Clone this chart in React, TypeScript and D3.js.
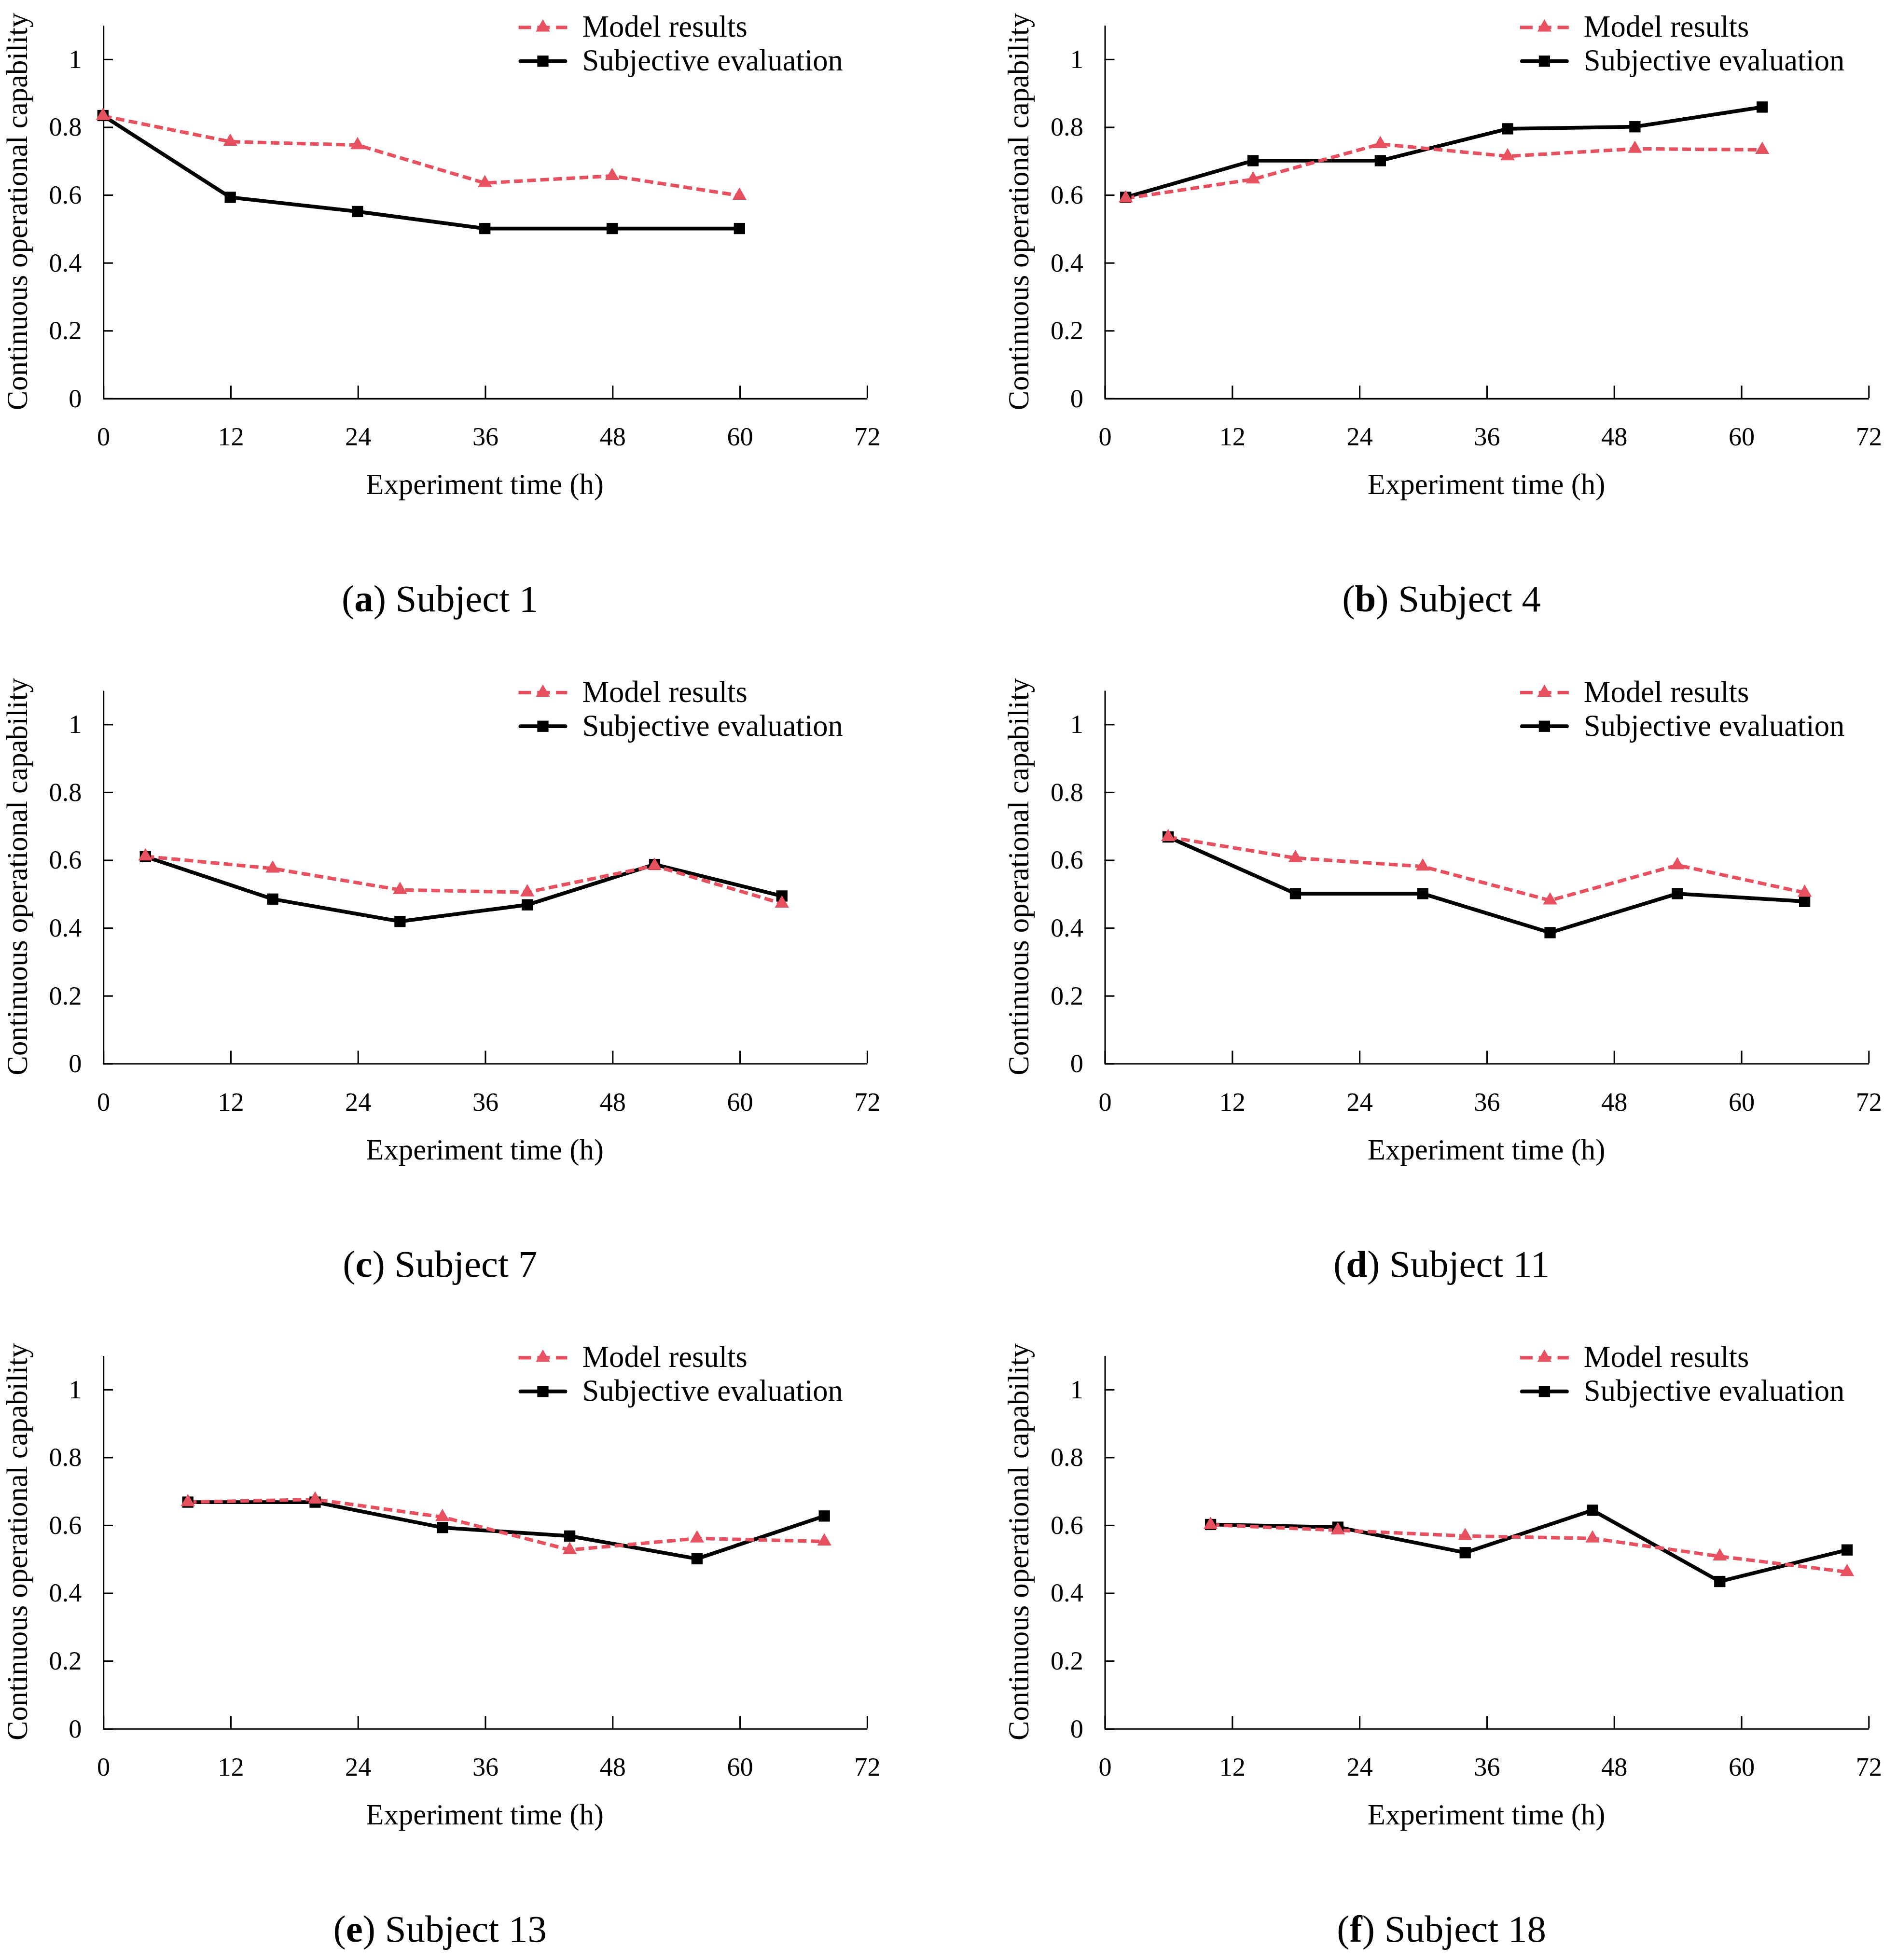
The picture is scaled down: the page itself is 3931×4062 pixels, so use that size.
import { useEffect, useRef } from "react";
import * as d3 from "d3";

// Hours at which each subject was sampled
const hoursS1 = [0, 12, 24, 36, 48, 60];
const hoursS4 = [2, 14, 26, 38, 50, 62];
const hoursS7 = [4, 16, 28, 40, 52, 64];
const hoursS11 = [6, 18, 30, 42, 54, 66];
const hoursS13 = [8, 20, 32, 44, 56, 68];
const hoursS18 = [10, 22, 34, 46, 58, 70];

// Model results (red dashed, triangles)
const modelS1 = [0.832, 0.756, 0.746, 0.634, 0.655, 0.597];
const modelS4 = [0.589, 0.645, 0.749, 0.713, 0.735, 0.732];
const modelS7 = [0.61, 0.574, 0.511, 0.504, 0.582, 0.471];
const modelS11 = [0.667, 0.605, 0.58, 0.48, 0.584, 0.503];
const modelS13 = [0.667, 0.675, 0.623, 0.526, 0.56, 0.551];
const modelS18 = [0.6, 0.584, 0.567, 0.56, 0.507, 0.461];

// Subjective evaluation (black solid, squares)
const subjS1 = [0.833, 0.592, 0.55, 0.5, 0.5, 0.5];
const subjS4 = [0.592, 0.7, 0.7, 0.794, 0.8, 0.858];
const subjS7 = [0.609, 0.484, 0.418, 0.467, 0.586, 0.493];
const subjS11 = [0.667, 0.5, 0.5, 0.385, 0.5, 0.477];
const subjS13 = [0.667, 0.667, 0.592, 0.567, 0.5, 0.626];
const subjS18 = [0.601, 0.593, 0.518, 0.643, 0.433, 0.526];

const panelLetters = ["a", "b", "c", "d", "e", "f"];
const subjectNames = ["Subject 1", "Subject 4", "Subject 7", "Subject 11", "Subject 13", "Subject 18"];
const panelHours = [hoursS1, hoursS4, hoursS7, hoursS11, hoursS13, hoursS18];
const panelModel = [modelS1, modelS4, modelS7, modelS11, modelS13, modelS18];
const panelSubj = [subjS1, subjS4, subjS7, subjS11, subjS13, subjS18];

const xTicks = [0, 12, 24, 36, 48, 60, 72];
const yTicks = [0, 0.2, 0.4, 0.6, 0.8, 1];
const legendLabels = ["Model results", "Subjective evaluation"];

const RED = "#E6505F";
const FONT = "'Liberation Serif', 'Times New Roman', serif";

export default function App() {
  const svgRef = useRef<SVGSVGElement>(null);

  useEffect(() => {
    if (!svgRef.current) return;
    const root = d3.select(svgRef.current);
    root.selectAll("*").remove();

    const plotW = 612;
    const plotH = 299;
    const colX = [82.5, 885];
    const rowY = [20, 553, 1086];

    panelLetters.forEach((letter, i) => {
      const left = colX[i % 2];
      const top = rowY[Math.floor(i / 2)];
      const g = root.append("g").attr("transform", `translate(${left},${top})`);

      const x = d3.scaleLinear().domain([0, 72]).range([0, plotW]);
      const y = d3.scaleLinear().domain([0, 1.1]).range([plotH, 0]);

      // Axes
      g.append("g")
        .attr("transform", `translate(0,${plotH})`)
        .call(d3.axisBottom(x).tickValues(xTicks).tickSizeInner(-10).tickSizeOuter(0).tickPadding(23).tickFormat((d) => String(d)))
        .call((a) => a.select(".domain").attr("stroke", "#000").attr("stroke-width", 1.2))
        .call((a) => a.selectAll(".tick line").attr("stroke", "#000").attr("stroke-width", 1.2))
        .call((a) => a.selectAll(".tick text").attr("fill", "#000").attr("font-size", 21).attr("font-family", FONT));

      g.append("g")
        .call(d3.axisLeft(y).tickValues(yTicks).tickSizeInner(-8).tickSizeOuter(0).tickPadding(17).tickFormat((d) => String(d)))
        .call((a) => a.select(".domain").attr("stroke", "#000").attr("stroke-width", 1.2))
        .call((a) => a.selectAll(".tick line").attr("stroke", "#000").attr("stroke-width", 1.2))
        .call((a) => a.selectAll(".tick text").attr("fill", "#000").attr("font-size", 21).attr("font-family", FONT));

      // Axis titles
      g.append("text")
        .attr("transform", `translate(-61,${plotH / 2}) rotate(-90)`)
        .attr("text-anchor", "middle")
        .attr("font-size", 23.5)
        .attr("font-family", FONT)
        .text("Continuous operational capability");

      g.append("text")
        .attr("x", plotW / 2)
        .attr("y", plotH + 77)
        .attr("text-anchor", "middle")
        .attr("font-size", 23.5)
        .attr("font-family", FONT)
        .text("Experiment time (h)");

      // Sub caption
      const cap = g.append("text")
        .attr("x", 270)
        .attr("y", plotH + 171)
        .attr("text-anchor", "middle")
        .attr("font-size", 30.5)
        .attr("font-family", FONT);
      cap.append("tspan").text("(");
      cap.append("tspan").attr("font-weight", "bold").text(letter);
      cap.append("tspan").text(`) ${subjectNames[i]}`);

      const hours = panelHours[i];
      const model = panelModel[i];
      const subj = panelSubj[i];

      const line = d3.line<number>()
        .x((_, j) => x(hours[j]))
        .y((d) => y(d));

      // Subjective evaluation
      g.append("path")
        .datum(subj)
        .attr("fill", "none")
        .attr("stroke", "#000")
        .attr("stroke-width", 3)
        .attr("stroke-linejoin", "round")
        .attr("d", line);

      // Model results
      g.append("path")
        .datum(model)
        .attr("fill", "none")
        .attr("stroke", RED)
        .attr("stroke-width", 2.8)
        .attr("stroke-dasharray", "7,3.5")
        .attr("d", line);

      g.selectAll(".sq")
        .data(subj)
        .enter()
        .append("rect")
        .attr("x", (_, j) => x(hours[j]) - 4.5)
        .attr("y", (d) => y(d) - 4.5)
        .attr("width", 9)
        .attr("height", 9)
        .attr("fill", "#000");

      const tri = d3.symbol().type(d3.symbolTriangle).size(56);
      g.selectAll(".tri")
        .data(model)
        .enter()
        .append("path")
        .attr("transform", (d, j) => `translate(${x(hours[j])},${y(d)})`)
        .attr("d", tri)
        .attr("fill", RED);

      // Legend
      const lx0 = 333;
      const lx1 = 372;
      const ly = [2, 29];
      g.append("line")
        .attr("x1", lx0).attr("x2", lx1)
        .attr("y1", ly[0]).attr("y2", ly[0])
        .attr("stroke", RED).attr("stroke-width", 2.8)
        .attr("stroke-dasharray", "10,5");
      g.append("path")
        .attr("transform", `translate(${(lx0 + lx1) / 2},${ly[0]})`)
        .attr("d", tri)
        .attr("fill", RED);
      g.append("line")
        .attr("x1", lx0 + 1.5).attr("x2", lx1 - 1.5)
        .attr("y1", ly[1]).attr("y2", ly[1])
        .attr("stroke", "#000").attr("stroke-width", 3)
        .attr("stroke-linecap", "round");
      g.append("rect")
        .attr("x", (lx0 + lx1) / 2 - 4.5)
        .attr("y", ly[1] - 4.5)
        .attr("width", 9)
        .attr("height", 9)
        .attr("fill", "#000");
      legendLabels.forEach((lab, k) => {
        g.append("text")
          .attr("x", 384)
          .attr("y", ly[k] + 7.5)
          .attr("font-size", 24.2)
          .attr("font-family", FONT)
          .text(lab);
      });
    });
  }, []);

  return (
    <svg
      ref={svgRef}
      width={3931}
      height={4062}
      viewBox="0 0 1520 1570.6"
      style={{ position: "absolute", left: 0, top: 0, background: "#fff" }}
    />
  );
}
